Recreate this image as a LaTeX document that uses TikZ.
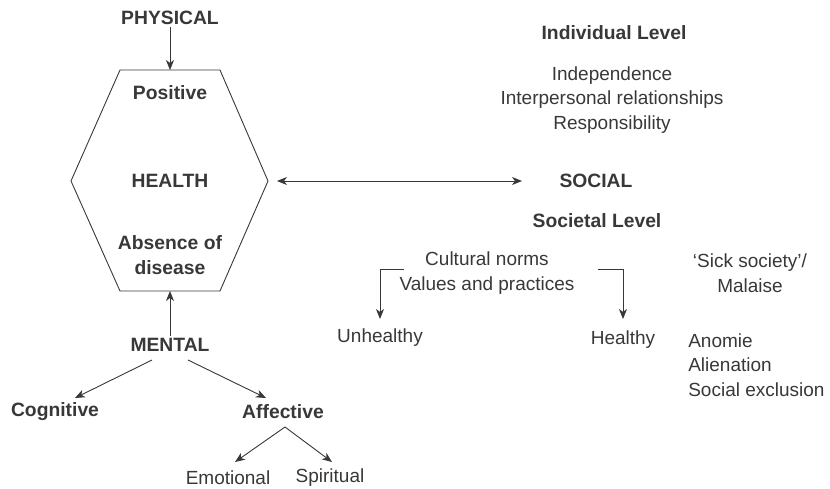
\documentclass[tikz,border=0pt]{standalone}
\usepackage{fontspec}
\setmainfont{Liberation Sans}
\usetikzlibrary{arrows.meta,positioning}
\definecolor{ink}{HTML}{383838}

\begin{document}
\begin{tikzpicture}[x=1pt,y=-1pt,semithick,color=ink,text=ink]
  \tikzstyle{label} = [inner sep=2pt, font={\fontsize{19}{24.5}\selectfont}, align=center];
  \tikzstyle{heading} = [label, font={\fontsize{19.3}{24.5}\selectfont\bfseries}];
  \tikzstyle{arrowEdge} = [ink, line width=0.9pt, -{Stealth[length=10pt,width=8pt,inset=3pt]}];
  \tikzstyle{twoWayEdge} = [arrowEdge, {Stealth[length=10pt,width=8pt,inset=3pt]}-{Stealth[length=10pt,width=8pt,inset=3pt]}];

  \useasboundingbox (0,0) rectangle (830,488);

  % the health hexagon
  \coordinate (hexTop) at (170,70);
  \coordinate (hexBottom) at (170,291);
  \coordinate (hexRight) at (268,181);
  \draw[line width=0.9pt] (120,70) -- (220,70) -- (hexRight) -- (220,291) -- (120,291) -- (71,181) -- cycle;
  \node[heading](positive) at (170,93) {Positive};
  \node[heading](health) at (170,181) {HEALTH};
  \node[heading](absence) at (170,255) {Absence of\\disease};

  % physical and mental
  \node[heading](physical) at (170,18) {PHYSICAL};
  \node[heading](mental) at (170,345) {MENTAL};
  \node[heading](cognitive) at (55,412) {Cognitive};
  \node[heading](affective) at (283,412) {Affective};
  \node[label](emotional) at (228,478) {Emotional};
  \node[label](spiritual) at (330,478) {Spiritual};

  \draw[arrowEdge] (physical) -- (hexTop);
  \draw[arrowEdge] (mental) -- (hexBottom);
  \coordinate (mentLeft) at (152,360);
  \coordinate (mentRight) at (188,360);
  \draw[arrowEdge] (mentLeft) -- (75,398);
  \draw[arrowEdge] (mentRight) -- (266,398);
  \coordinate (affFork) at (285,427);
  \draw[arrowEdge] (affFork) -- (235,462);
  \draw[arrowEdge] (affFork) -- (332,462);

  % social side
  \node[heading](social) at (596,181) {SOCIAL};
  \coordinate (socEnd) at (522,181);
  \draw[twoWayEdge] ([xshift=9pt]hexRight) -- (socEnd);
  \node[heading](individual) at (614,33) {Individual Level};
  \node[label](indList) at (612,100) {Independence\\Interpersonal relationships\\Responsibility};
  \node[heading](societal) at (597,221) {Societal Level};
  \node[label](culture) at (487,273) {Cultural norms\\Values and practices};
  \node[label](unhealthy) at (380,338) {Unhealthy};
  \node[label](healthy) at (623,340) {Healthy};
  \node[label](sick) at (750,273) {`Sick society'/\\Malaise};
  \node[label, anchor=west, align=left](malaise) at (686,365) {Anomie\\Alienation\\Social exclusion};

  \coordinate (cultLeft) at (404,269);
  \coordinate (cultRight) at (598,269);
  \draw[arrowEdge] (cultLeft) -| (380,319);
  \draw[arrowEdge] (cultRight) -| (623,319);
\end{tikzpicture}
\end{document}
